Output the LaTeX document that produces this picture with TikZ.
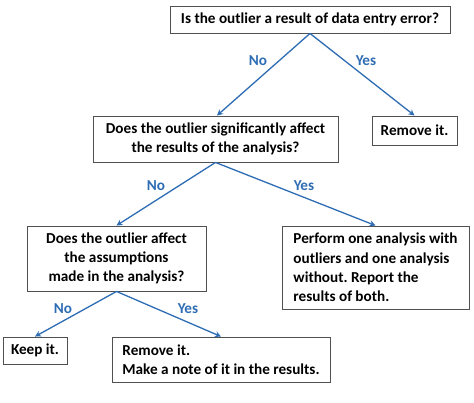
\documentclass[tikz,border=0pt]{standalone}
\usepackage{fontspec}
\setmainfont{Carlito}
\frenchspacing
\usetikzlibrary{arrows.meta}
\definecolor{arrowblue}{RGB}{46,109,180}
\definecolor{boxgray}{RGB}{80,80,80}
\begin{document}
\begin{tikzpicture}[x=1pt,y=-1pt,
  box/.style={draw=boxgray,line width=0.9pt,inner sep=0pt,font=\bfseries\fontsize{15.2}{19.3}\selectfont},
  cbox/.style={box,align=center},
  lbox/.style={box,align=left},
  lab/.style={text=arrowblue,font=\bfseries\fontsize{15.2}{18}\selectfont},
  conn/.style={draw=arrowblue,line width=1.3pt,-{Stealth[length=6pt,width=6pt]}}]
\useasboundingbox[fill=white] (0,0) rectangle (474,403);
\node[cbox,minimum width=280pt,minimum height=27pt] (q1) at (310,19.5) {Is the outlier a result of data entry error?};
\node[cbox,minimum width=245pt,minimum height=46pt] (q2) at (215.5,139) {Does the outlier significantly affect\\the results of the analysis?};
\node[cbox,minimum width=85pt,minimum height=29pt] (r1) at (414.5,130.5) {Remove it.};
\node[cbox,minimum width=179pt,minimum height=65pt] (q3) at (116.5,258.5) {Does the outlier affect\\the assumptions\\made in the analysis?};
\node[lbox,minimum width=187pt,minimum height=83pt] (r2) at (375.5,267.5) {Perform one analysis with\\outliers and one analysis\\without. Report the\\results of both.};
\node[cbox,minimum width=64pt,minimum height=27pt] (r3) at (35,350.5) {Keep it.};
\node[lbox,minimum width=218pt,minimum height=45pt] (r4) at (221,359.5) {Remove it.\\Make a note of it in the results.};
\draw[conn] (q1.south) -- (q2.north -| 217,0);
\draw[conn] (q1.south) -- (r1.north);
\draw[conn] (q2.south) -- (q3.north);
\draw[conn] (q2.south) -- (r2.north);
\draw[conn] (q3.south) -- (r3.north);
\draw[conn] (q3.south) -- (r4.north);
\node[lab] (n1) at (258,61) {No};
\node[lab] (y1) at (366,61) {Yes};
\node[lab] (n2) at (156,186) {No};
\node[lab] (y2) at (304,186) {Yes};
\node[lab] (n3) at (63,309) {No};
\node[lab] (y3) at (188,309) {Yes};
\end{tikzpicture}
\end{document}
